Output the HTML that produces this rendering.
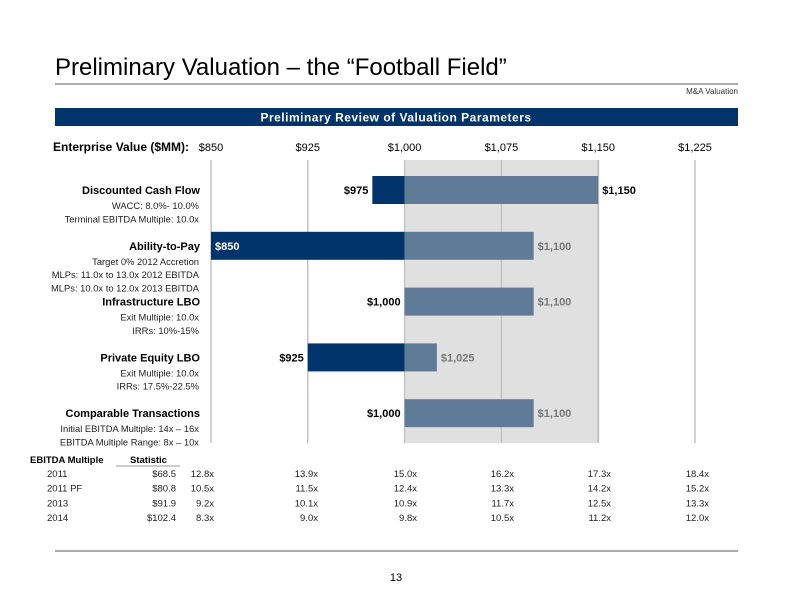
<!DOCTYPE html>
<html><head><meta charset="utf-8"><style>
body{margin:0;background:#fff;}
svg{display:block;font-family:"Liberation Sans",Arial,sans-serif;}
</style></head><body>
<svg id="chart" width="792" height="612" viewBox="0 0 792 612" xmlns="http://www.w3.org/2000/svg">
<text x="55" y="75" font-size="24" fill="#000">Preliminary Valuation – the “Football Field”</text>
<line x1="55" y1="84" x2="738" y2="84" stroke="#555" stroke-width="1"/>
<text x="738" y="94" font-size="8" text-anchor="end" fill="#333">M&amp;A Valuation</text>
<rect x="55" y="108" width="683" height="18" fill="#00346a"/>
<text x="396" y="121.5" font-size="12" font-weight="bold" fill="#fff" text-anchor="middle" letter-spacing="0.5">Preliminary Review of Valuation Parameters</text>
<text x="53" y="151" font-size="12" font-weight="bold" fill="#000">Enterprise Value ($MM):</text>
<g id="plot"></g>
<g id="labels"></g>
<g id="table"></g>
<line x1="55" y1="551" x2="738" y2="551" stroke="#555" stroke-width="1"/>
<text x="396" y="581" font-size="11" text-anchor="middle" fill="#000">13</text>
</svg>
<script>
const ticks=[850,925,1000,1075,1150,1225];
const tickLabels=["$850","$925","$1,000","$1,075","$1,150","$1,225"];
const methods=["Discounted Cash Flow","Ability-to-Pay","Infrastructure LBO","Private Equity LBO","Comparable Transactions"];
const lowVals=[975,850,1000,925,1000];
const highVals=[1150,1100,1100,1025,1100];
const lowLabels=["$975","$850","$1,000","$925","$1,000"];
const highLabels=["$1,150","$1,100","$1,100","$1,025","$1,100"];
const subLines=[["WACC: 8.0%- 10.0%","Terminal EBITDA Multiple: 10.0x"],["Target 0% 2012 Accretion","MLPs: 11.0x to 13.0x 2012 EBITDA","MLPs: 10.0x to 12.0x 2013 EBITDA"],["Exit Multiple: 10.0x","IRRs: 10%-15%"],["Exit Multiple: 10.0x","IRRs: 17.5%-22.5%"],["Initial EBITDA Multiple: 14x – 16x","EBITDA Multiple Range: 8x – 10x"]];
const shadeLow=1000, shadeHigh=1150, split=1000;
const rowNames=["2011","2011 PF","2013","2014"];
const ebitda=["$68.5","$80.8","$91.9","$102.4"];
const multiples=[["12.8x","13.9x","15.0x","16.2x","17.3x","18.4x"],["10.5x","11.5x","12.4x","13.3x","14.2x","15.2x"],["9.2x","10.1x","10.9x","11.7x","12.5x","13.3x"],["8.3x","9.0x","9.8x","10.5x","11.2x","12.0x"]];

const NS="http://www.w3.org/2000/svg";
const X=v=>211+(v-850)*(484/375);
const rowY=i=>176+i*55.8;
function mk(parent,tag,attrs,text){const e=document.createElementNS(NS,tag);for(const k in attrs)e.setAttribute(k,attrs[k]);if(text!==undefined)e.textContent=text;parent.appendChild(e);return e;}
const plot=document.getElementById('plot');
const shade=mk(plot,'rect',{x:X(shadeLow),y:160,width:X(shadeHigh)-X(shadeLow),height:283,fill:'#e0e0e0'});


ticks.forEach((t,i)=>{
  const g=mk(plot,'line',{x1:X(t),x2:X(t),y1:160,y2:443,stroke:'#c4c4c4','stroke-width':(i==4?2:1.5)});
  
  
  const tl=mk(plot,'text',{x:X(t),y:151,'font-size':11,'text-anchor':'middle',fill:'#000'},tickLabels[i]);
  
  
});
const lab=document.getElementById('labels');
methods.forEach((m,i)=>{
  const y=rowY(i),h=28,lo=lowVals[i],hi=highVals[i];
  const s=Math.max(lo,Math.min(split,hi));
  if(lo<s){const b=mk(plot,'rect',{x:X(lo),y:y,width:X(s)-X(lo),height:h,fill:'#00346a'});
    
    }
  if(hi>s){const b=mk(plot,'rect',{x:X(s),y:y,width:X(hi)-X(s),height:h,fill:'#607b97'});
    
    }
  let l;
  if(lo==850){l=mk(plot,'text',{x:X(lo)+4,y:y+18,'font-size':11,'font-weight':'bold',fill:'#fff'},lowLabels[i]);}
  else{l=mk(plot,'text',{x:X(lo)-4,y:y+18,'font-size':11,'font-weight':'bold',fill:'#000','text-anchor':'end'},lowLabels[i]);}
  
  
  const r=mk(plot,'text',{x:X(hi)+4,y:y+18,'font-size':11,'font-weight':'bold',fill:(hi==1150?'#000':'#777')},highLabels[i]);
  
  
  const ml=mk(lab,'text',{x:200,y:y+18,'font-size':11,'font-weight':'bold','text-anchor':'end',fill:'#000'},m);
  
  
  subLines[i].forEach((s2,j)=>{
    const t=mk(lab,'text',{x:199,y:y+33+j*13.3,'font-size':9.4,'text-anchor':'end',fill:'#222'},s2);
    
    
  });
});
const tb=document.getElementById('table');
const h1=mk(tb,'text',{x:30,y:463,'font-size':9.5,'font-weight':'bold',fill:'#000'},'EBITDA Multiple');


const h2=mk(tb,'text',{x:130,y:463,'font-size':9.5,'font-weight':'bold',fill:'#000'},'Statistic');


const ul=mk(tb,'line',{x1:116,x2:180,y1:466,y2:466,stroke:'#999','stroke-width':1});


const colEnds=[214,318,417,514,611,709];
rowNames.forEach((n,r)=>{
  const y=477+r*14.7;
  const a=mk(tb,'text',{x:47,y:y,'font-size':9.5,fill:'#222'},n);
  
  
  const b=mk(tb,'text',{x:176,y:y,'font-size':9.5,'text-anchor':'end',fill:'#222'},ebitda[r]);
  
  
  multiples[r].forEach((v,c)=>{
    const t=mk(tb,'text',{x:colEnds[c],y:y,'font-size':9.5,'text-anchor':'end',fill:'#222'},v);
    
    
  });
});
</script>
</body></html>
